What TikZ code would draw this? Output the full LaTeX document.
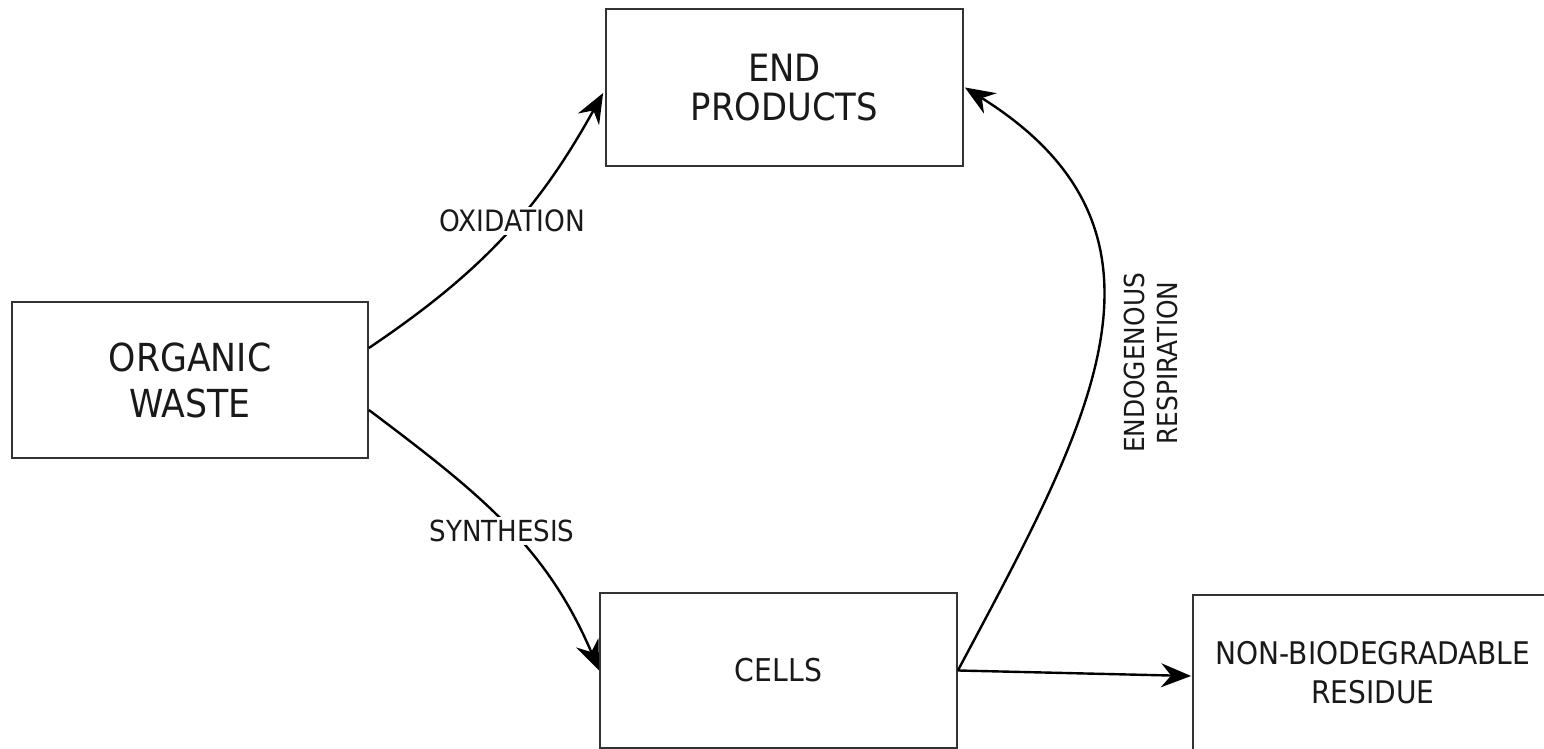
\documentclass[tikz,border=0pt]{standalone}
\usepackage{fontspec}
\setmainfont{DejaVu Sans}[FakeStretch=0.9]
\usetikzlibrary{arrows.meta,calc}
\begin{document}
\begin{tikzpicture}[x=0.5pt,y=0.5pt,
  box/.style={draw=black!80, line width=0.9pt, minimum width=178.5pt, minimum height=78pt, align=center, inner sep=0pt, text=black!90},
  conn/.style={line width=1.2pt, black, -{Stealth[length=15pt,width=12pt,inset=5pt]}},
  lab/.style={fill=white, inner sep=1.5pt, text=black!90}]
\clip (0,0) rectangle (1544,749);
\fill[white] (0,0) rectangle (1544,749);

\node[box, minimum width=178pt, minimum height=78pt, font=\fontsize{19.3}{23}\selectfont] (ow) at (190,369) {ORGANIC\\WASTE};
\node[box, minimum height=78.5pt, font=\fontsize{18.8}{19.5}\selectfont] (ep) at (784.5,661.5) {END\\PRODUCTS};
\node[box, minimum height=77.5pt, font=\fontsize{15.7}{19}\selectfont] (ce) at (778.5,78.5) {CELLS};
\node[box, minimum width=180pt, minimum height=78pt, font=\fontsize{15.6}{19.5}\selectfont] (nbr) at (1373,76) {NON-BIODEGRADABLE\\RESIDUE};

\draw[conn] ($(ow.east)+(0,32)$) to[out=34,in=241] ($(ep.west)+(-2,-5.5)$);
\draw[conn] ($(ow.east)+(0,-30)$) to[out=-37,in=113] (ce.west);
\draw[conn] (ce.east) to[out=62,in=-32,looseness=1.21] ($(ep.east)+(1,0)$);
\draw[conn] (ce.east) -- ($(nbr.west)+(-1,-3)$);

\node[lab, font=\fontsize{14.7}{17}\selectfont] (oxl) at (512,528) {OXIDATION};
\node[lab, font=\fontsize{14.5}{17}\selectfont] (syl) at (502,218) {SYNTHESIS};
\node[text=black!90, align=center, rotate=90, inner sep=0pt, font=\fontsize{13.8}{16.5}\selectfont] (enl) at (1151,386) {ENDOGENOUS\\RESPIRATION};
\end{tikzpicture}
\end{document}
